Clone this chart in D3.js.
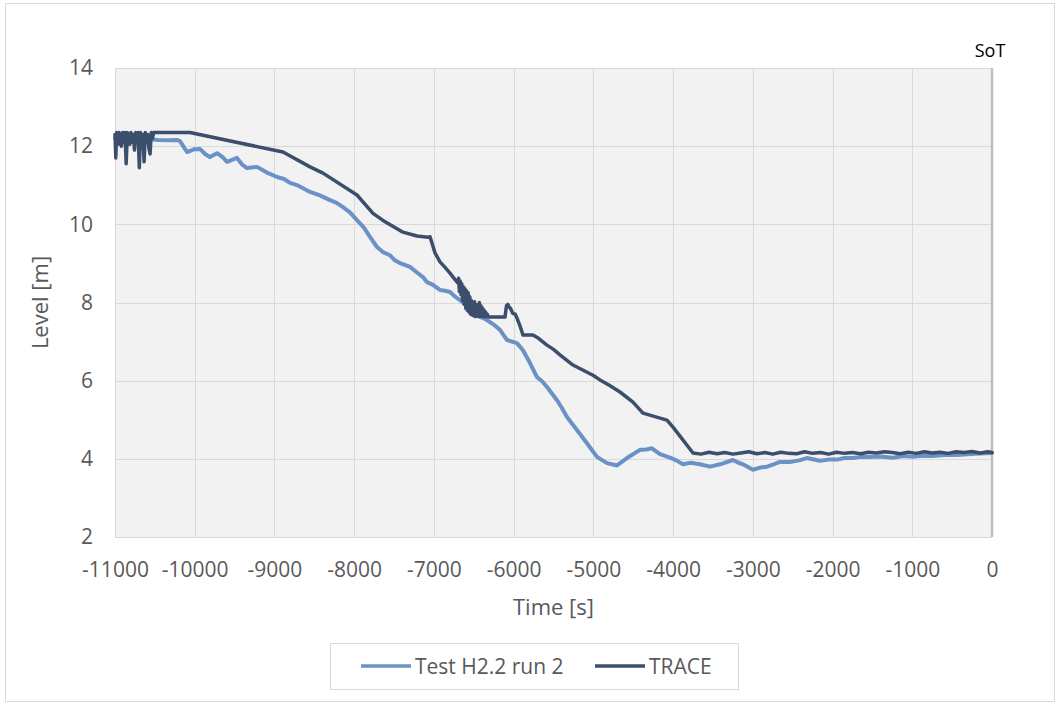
<!DOCTYPE html>
<html>
<head>
<meta charset="utf-8">
<script src="https://cdn.jsdelivr.net/npm/d3@7"></script>
<style>
  html, body { margin: 0; padding: 0; background: #ffffff; }
  svg { display: block; font-family: "Open Sans", "Noto Sans", sans-serif; }
</style>
</head>
<body>
<svg id="chart" width="1060" height="706"></svg>
<script>
// Measured level, Test H2.2 run 2
const testTime = [-11000, -10700, -10461, -10310, -10222, -10185, -10097, -10010, -9934, -9870, -9809, -9721, -9650, -9595, -9470, -9400, -9344, -9219, -9100, -8968, -8880, -8805, -8700, -8554, -8430, -8303, -8220, -8140, -8050, -7965, -7880, -7802, -7714, -7639, -7551, -7490, -7426, -7300, -7220, -7137, -7087, -7012, -6924, -6860, -6798, -6740, -6673, -6610, -6547, -6480, -6422, -6360, -6297, -6240, -6171, -6083, -5958, -5883, -5795, -5707, -5640, -5582, -5456, -5400, -5331, -5206, -5080, -4955, -4829, -4704, -4578, -4415, -4340, -4265, -4165, -4039, -3960, -3876, -3780, -3663, -3537, -3412, -3249, -3180, -3124, -2998, -2900, -2822, -2740, -2660, -2534, -2420, -2321, -2158, -2050, -1945, -1850, -1744, -1640, -1531, -1400, -1242, -1120, -992, -870, -741, -600, -440, -220, 0];
const testLevel = [12.2, 12.2, 12.16, 12.15, 12.16, 12.13, 11.85, 11.92, 11.93, 11.80, 11.72, 11.82, 11.72, 11.60, 11.70, 11.52, 11.44, 11.47, 11.33, 11.21, 11.16, 11.06, 10.99, 10.83, 10.74, 10.62, 10.55, 10.44, 10.30, 10.11, 9.92, 9.68, 9.42, 9.29, 9.21, 9.08, 9.01, 8.91, 8.78, 8.65, 8.52, 8.45, 8.32, 8.30, 8.27, 8.16, 8.06, 7.96, 7.81, 7.72, 7.63, 7.58, 7.50, 7.42, 7.30, 7.04, 6.96, 6.78, 6.45, 6.09, 5.98, 5.84, 5.50, 5.32, 5.07, 4.74, 4.40, 4.05, 3.89, 3.83, 4.02, 4.23, 4.24, 4.27, 4.12, 4.03, 3.96, 3.86, 3.90, 3.86, 3.80, 3.86, 3.97, 3.90, 3.86, 3.72, 3.78, 3.80, 3.86, 3.92, 3.92, 3.96, 4.02, 3.95, 3.98, 3.98, 4.02, 4.02, 4.05, 4.05, 4.06, 4.03, 4.07, 4.05, 4.08, 4.07, 4.10, 4.10, 4.13, 4.15];

// TRACE simulation level
const traceTime = [-11000, -10990, -10980, -10965, -10950, -10935, -10920, -10905, -10890, -10875, -10860, -10845, -10830, -10815, -10800, -10785, -10770, -10755, -10740, -10725, -10710, -10695, -10680, -10665, -10650, -10635, -10620, -10605, -10590, -10575, -10560, -10545, -10530, -10515, -10500, -10060, -8893, -8554, -8391, -7965, -7764, -7639, -7388, -7212, -7074, -7049, -6986, -6924, -6860, -6798, -6740, -6700, -6690, -6680, -6670, -6660, -6650, -6640, -6630, -6620, -6610, -6600, -6590, -6580, -6570, -6560, -6550, -6540, -6530, -6520, -6510, -6500, -6490, -6480, -6470, -6460, -6450, -6440, -6430, -6420, -6410, -6400, -6390, -6380, -6370, -6360, -6350, -6340, -6330, -6320, -6297, -6108, -6090, -6071, -6055, -6040, -6010, -5980, -5958, -5920, -5883, -5757, -5700, -5582, -5500, -5419, -5256, -5140, -5005, -4917, -4800, -4666, -4503, -4378, -4077, -4001, -3750, -3650, -3550, -3450, -3350, -3250, -3150, -3050, -2950, -2850, -2750, -2650, -2550, -2450, -2350, -2250, -2150, -2050, -1950, -1850, -1750, -1650, -1550, -1450, -1350, -1250, -1150, -1050, -950, -850, -750, -650, -550, -450, -350, -250, -150, -50, 0];
const traceLevel = [12.3, 11.7, 12.35, 12.05, 12.35, 12.1, 12.0, 12.35, 12.1, 12.35, 11.55, 12.35, 12.2, 12.05, 12.35, 12.1, 12.3, 11.9, 12.35, 12.15, 12.35, 11.45, 12.35, 12.1, 12.3, 11.6, 12.35, 12.1, 12.3, 11.95, 11.8, 12.35, 12.2, 12.35, 12.35, 12.35, 11.85, 11.47, 11.31, 10.75, 10.28, 10.10, 9.80, 9.70, 9.67, 9.68, 9.27, 9.04, 8.90, 8.75, 8.60, 8.50, 8.62, 8.28, 8.55, 8.20, 8.48, 8.05, 8.40, 7.95, 8.35, 7.85, 8.30, 7.80, 8.25, 7.75, 8.15, 7.70, 8.05, 7.68, 7.98, 7.66, 8.02, 7.64, 7.95, 7.66, 7.90, 7.64, 8.00, 7.66, 7.92, 7.64, 7.86, 7.65, 7.80, 7.63, 7.75, 7.64, 7.70, 7.63, 7.63, 7.63, 7.92, 7.95, 7.88, 7.85, 7.72, 7.70, 7.60, 7.40, 7.17, 7.17, 7.10, 6.91, 6.80, 6.66, 6.40, 6.28, 6.14, 6.02, 5.88, 5.71, 5.45, 5.17, 4.99, 4.81, 4.15, 4.12, 4.17, 4.13, 4.16, 4.12, 4.15, 4.18, 4.13, 4.16, 4.12, 4.17, 4.14, 4.13, 4.18, 4.14, 4.16, 4.12, 4.17, 4.14, 4.16, 4.13, 4.17, 4.15, 4.18, 4.16, 4.13, 4.17, 4.14, 4.18, 4.15, 4.17, 4.14, 4.18, 4.16, 4.19, 4.15, 4.18, 4.16];

const xTicks = [-11000, -10000, -9000, -8000, -7000, -6000, -5000, -4000, -3000, -2000, -1000, 0];
const yTicks = [2, 4, 6, 8, 10, 12, 14];
const seriesNames = ["Test H2.2 run 2", "TRACE"];
const seriesColors = ["#6b92c6", "#3b4e6c"];

const svg = d3.select("#chart");
const plot = { left: 115, right: 992, top: 68, bottom: 537 };

// Chart frame
svg.append("rect")
  .attr("x", 5.5).attr("y", 3.5).attr("width", 1049).attr("height", 698)
  .attr("fill", "#ffffff").attr("stroke", "#d9d9d9").attr("stroke-width", 1);

const x = d3.scaleLinear().domain([-11000, 0]).range([plot.left, plot.right]);
const y = d3.scaleLinear().domain([2, 14]).range([plot.bottom, plot.top]);

// Plot background
svg.append("rect")
  .attr("x", plot.left).attr("y", plot.top)
  .attr("width", plot.right - plot.left).attr("height", plot.bottom - plot.top)
  .attr("fill", "#f2f2f2");

// Gridlines
const grid = svg.append("g");
grid.selectAll("line.v").data(xTicks).join("line")
  .attr("x1", d => Math.round(x(d)) + 0.5).attr("x2", d => Math.round(x(d)) + 0.5)
  .attr("y1", plot.top).attr("y2", plot.bottom)
  .attr("stroke", "#d9d9d9").attr("stroke-width", 1);
grid.selectAll("line.h").data(yTicks).join("line")
  .attr("y1", d => Math.round(y(d)) + 0.5).attr("y2", d => Math.round(y(d)) + 0.5)
  .attr("x1", plot.left).attr("x2", plot.right)
  .attr("stroke", "#d9d9d9").attr("stroke-width", 1);

// Start-of-test marker at t = 0
svg.append("line")
  .attr("x1", x(0)).attr("x2", x(0))
  .attr("y1", plot.top).attr("y2", plot.bottom)
  .attr("stroke", "#bfbfbf").attr("stroke-width", 2.5);
svg.append("text")
  .attr("x", x(0) - 2).attr("y", 57)
  .attr("text-anchor", "middle")
  .attr("font-size", 18).attr("fill", "#000000")
  .text("SoT");

// Axes (tick labels only, no domain lines); plain hyphen for negatives
const fmt = d => String(d);
const xAxis = svg.append("g")
  .attr("transform", `translate(0,${plot.bottom})`)
  .call(d3.axisBottom(x).tickValues(xTicks).tickSize(0).tickPadding(40).tickFormat(fmt));
const yAxis = svg.append("g")
  .attr("transform", `translate(${plot.left},0)`)
  .call(d3.axisLeft(y).tickValues(yTicks).tickSize(0).tickPadding(22).tickFormat(fmt));
[xAxis, yAxis].forEach(g => {
  g.select(".domain").remove();
  g.selectAll("text")
    .attr("font-family", "'Open Sans', 'Noto Sans', sans-serif")
    .attr("font-size", 21).attr("fill", "#595959");
});
xAxis.selectAll("text").attr("dy", "0");

// Axis titles
svg.append("text")
  .attr("x", (plot.left + plot.right) / 2).attr("y", 615)
  .attr("text-anchor", "middle").attr("font-size", 22).attr("fill", "#595959")
  .text("Time [s]");
svg.append("text")
  .attr("transform", `translate(48,${(plot.top + plot.bottom) / 2}) rotate(-90)`)
  .attr("text-anchor", "middle").attr("font-size", 22).attr("fill", "#595959")
  .text("Level [m]");

// Series lines
const line = d3.line().x(d => x(d[0])).y(d => y(d[1]));
const testData = d3.zip(testTime, testLevel);
const traceData = d3.zip(traceTime, traceLevel);

svg.append("path").datum(testData)
  .attr("d", line).attr("fill", "none")
  .attr("stroke", seriesColors[0]).attr("stroke-width", 4)
  .attr("stroke-linejoin", "round").attr("stroke-linecap", "round");
svg.append("path").datum(traceData)
  .attr("d", line).attr("fill", "none")
  .attr("stroke", seriesColors[1]).attr("stroke-width", 3.5)
  .attr("stroke-linejoin", "round").attr("stroke-linecap", "round");

// Legend
const legend = svg.append("g");
legend.append("rect")
  .attr("x", 330.5).attr("y", 643.5).attr("width", 408).attr("height", 46)
  .attr("fill", "#ffffff").attr("stroke", "#d9d9d9");
const legendX = [361, 595];
seriesNames.forEach((name, i) => {
  legend.append("line")
    .attr("x1", legendX[i]).attr("x2", legendX[i] + 50)
    .attr("y1", 666).attr("y2", 666)
    .attr("stroke", seriesColors[i]).attr("stroke-width", 3.5);
  legend.append("text")
    .attr("x", legendX[i] + 54).attr("y", 674)
    .attr("font-size", 21).attr("fill", "#595959")
    .text(name);
});
</script>
</body>
</html>
